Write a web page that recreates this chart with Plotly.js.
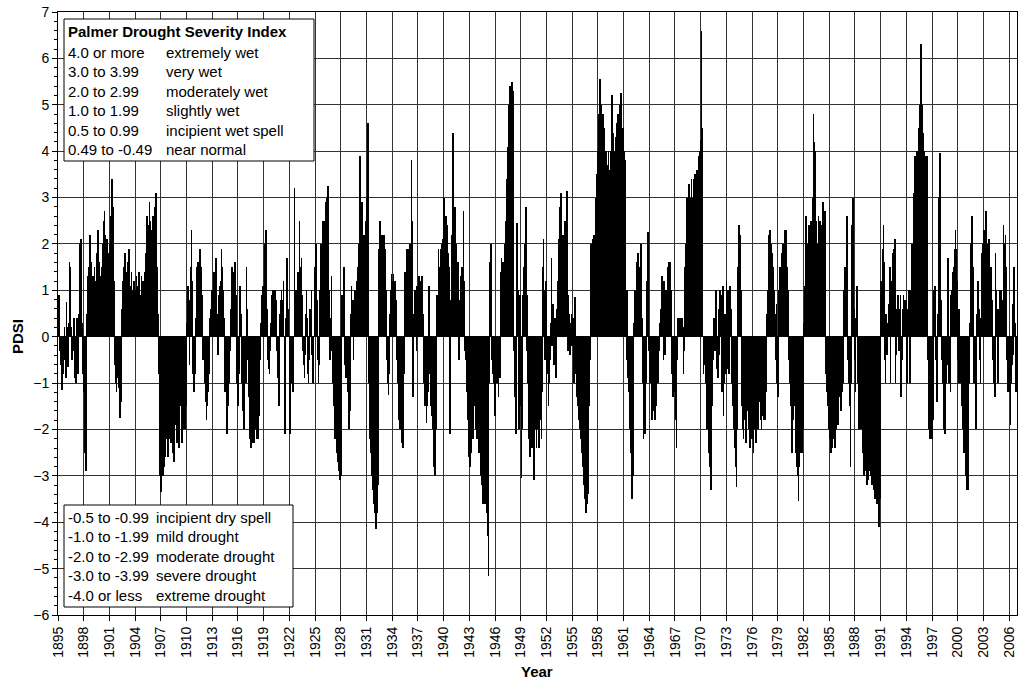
<!DOCTYPE html>
<html>
<head>
<meta charset="utf-8">
<script src="https://cdn.plot.ly/plotly-3.0.1.min.js"></script>
<style>
  html, body { margin: 0; padding: 0; background: #fff; }
  #chart { width: 1018px; height: 681px; }
</style>
</head>
<body>
<div id="chart"></div>
<script>
// Monthly Palmer Drought Severity Index, January 1895 onwards
const firstYear = 1895;

const pdsi1890s = [
  0.4, 0.9, 0.6, -0.3, -0.6, -1.0, -1.15, -0.8, -0.5, 0.2, -0.4, -0.9,
  0.75, 0.2, -0.65, 0.3, 1.6, 1.5, 0.2, -0.4, -0.5, -0.3, 0.4, -0.9,
  -0.9, -1.0, -0.5, 0.4, -0.8, 0.5, 1.2, 2.0, 2.1, 1.2, 0.3, -0.8,
  -1.2, -1.6, -2.5, -2.9, -1.5, 0.5, 1.3, 1.5, 1.2, 2.2, 1.6, 1.0,
  1.1, 1.3, 1.0, 1.5, 1.2, 0.9, 1.4, 1.8, 2.3, 1.6, 1.2, 1.3
];
const pdsi1900s = [
  1.2, 1.5, 1.3, 2.0, 2.5, 2.7, 2.2, 1.6, 1.3, 2.1, 1.8, 1.2,
  1.5, 2.0, 2.6, 3.0, 3.4, 2.8, 1.2, -0.4, -0.6, -1.0, -1.2, -0.9,
  -0.6, -1.1, -1.3, -1.75, -1.4, -0.5, 0.6, 1.2, 1.5, 1.0, 1.8, 1.4,
  1.2, 1.0, 1.6, 1.9, 1.3, 0.9, 1.1, 1.4, 1.0, 0.8, 1.2, 1.0,
  0.8, 1.0, 1.3, 0.9, 1.1, 1.4, 1.2, 0.7, 0.9, 1.3, 1.0, 1.2,
  1.1, 1.4, 1.2, 1.8, 2.2, 2.6, 2.0, 2.4, 2.9, 2.5, 2.3, 2.0,
  2.2, 2.6, 2.0, 2.5, 2.8, 3.1, 2.7, 1.5, 0.5, -0.8, -2.0, -3.0,
  -3.35, -3.2, -2.5, -3.0, -2.8, -2.0, -2.6, -2.0, -1.5, -2.2, -2.6, -2.2,
  -1.5, -2.0, -2.3, -1.8, -2.2, -2.5, -2.7, -2.3, -1.9, -1.5, -2.0, -2.3,
  -2.2, -2.4, -1.9, -1.5, -1.2, -1.8, -2.3, -2.0, -1.6, -1.0, -2.0, -1.5
];
const pdsi1910s = [
  -1.0, 0.3, 1.1, 0.5, -0.6, 0.8, 1.5, 2.3, 1.2, -0.8, -1.2, -0.5,
  -0.8, 0.4, 0.8, 1.5, 1.6, 1.0, 1.3, 1.9, 1.5, 1.0, 0.9, -0.5,
  -0.3, -0.6, -1.0, -1.4, -1.8, -1.5, -1.2, -0.8, -0.5, 0.4, 0.6, 1.0,
  0.8, 1.0, 1.4, 0.6, 1.0, 1.7, 1.2, 0.5, -0.4, 0.9, 1.1, 0.7,
  1.2, 1.9, 1.5, 1.0, 0.4, -0.5, -1.2, -0.8, -1.6, -2.1, -1.5, -0.6,
  -1.0, -0.3, 0.6, 1.0, 1.5, 1.4, 0.8, 1.5, 1.6, 0.9, -0.5, -1.0,
  -1.5, -0.8, 0.4, 1.1, 0.5, -0.6, -1.0, -1.6, -2.0, -1.2, -0.5, -1.0,
  1.5, 0.6, -0.5, -1.3, -1.8, -2.2, -2.4, -2.1, -1.8, -2.3, -1.9, -2.3,
  -1.5, -2.0, -2.2, -1.8, -2.2, -1.7, -1.0, -0.5, 0.3, 0.6, 0.9, 1.1,
  1.0, 2.0, 1.6, 2.3, 1.5, 0.6, -0.5, -0.7, -0.8, -0.3, 0.3, 0.5
];
const pdsi1920s = [
  0.9, 1.0, 0.8, 0.6, 1.0, 0.8, 0.6, -0.3, -0.9, -1.5, -1.0, 0.5,
  0.8, 1.0, 0.8, 0.5, 1.2, -0.6, -2.1, 0.4, 1.2, 1.7, 0.6, 0.3,
  -0.4, -2.1, -1.0, -0.5, -0.8, -1.2, -0.5, 3.2, 0.8, 1.0, 0.6, 1.0,
  1.4, 1.0, 2.5, 1.5, 1.2, 1.7, 0.9, -0.3, -0.6, -0.9, -0.4, 0.5,
  1.0, 0.4, -0.8, -1.0, -0.5, 0.6, 0.3, 1.0, -0.4, -1.0, -0.6, 0.5,
  1.5, 2.0, 1.6, 0.8, -0.5, -1.0, -0.6, 1.0, 2.0, 1.8, 2.0, 2.5,
  2.0, 2.5, 2.4, 2.9, 2.6, 3.0, 3.25, 2.0, 1.0, -0.5, 0.4, 1.3,
  -0.3, -1.0, -1.5, -1.0, -2.2, -1.8, -2.5, -2.2, -2.7, -2.4, -2.9, -3.1,
  -3.0, -1.2, 0.9, 0.8, 0.3, 1.5, -0.6, -0.9, -0.4, -0.8, -1.2, -1.5,
  -2.0, -1.6, 0.5, 1.1, 0.6, 0.8, -0.5, 0.4, 1.0, 0.7, 1.2, 1.0
];
const pdsi1930s = [
  1.5, 2.0, 1.8, 3.9, 2.0, 1.5, 2.9, 2.0, 1.6, 2.2, 1.8, 2.5,
  3.0, 2.6, 4.6, 1.5, -1.0, -2.2, -2.5, -3.0, -2.6, -3.3, -3.6, -3.0,
  -3.8, -4.15, -3.5, -3.8, -3.2, -0.5, 1.9, 2.5, 2.0, 1.5, 2.2, 1.9,
  1.2, 2.2, 1.9, 1.0, 0.5, -0.5, -1.0, -1.25, -0.8, 0.5, 1.0, 1.35,
  1.2, 0.8, 1.35, 1.0, 1.2, 0.6, 0.8, -0.5, -1.0, -1.5, -1.8, -2.0,
  -1.8, -2.0, -2.3, -2.4, -1.5, -0.8, 1.4, 1.0, 1.5, 1.9, 1.4, 1.6,
  1.9, 2.0, 1.6, 3.8, 2.5, -1.3, -0.8, 0.5, 1.0, 0.7, -0.3, 1.1,
  1.1, 0.8, 1.3, 0.6, 1.2, 0.9, 1.3, 0.5, -0.4, -1.0, -1.5, -1.2,
  -1.85, -1.5, -1.2, -0.6, 1.1, -0.8, -1.5, -1.7, -1.3, -2.0, -2.5, -2.8,
  -3.0, -2.0, 0.6, 0.9, 0.8, 1.9, 1.0, 1.5, 1.9, 2.0, 1.8, 2.1
];
const pdsi1940s = [
  2.5, 3.0, 2.2, 2.6, 1.9, 2.4, 1.8, 1.3, 1.5, -2.1, 0.8, 2.0,
  2.2, 4.4, 3.0, 2.0, 2.8, 2.0, 1.4, 1.0, 1.6, 1.2, -0.5, 0.8,
  1.3, 0.9, 1.5, 1.0, 2.7, 1.2, -0.3, -0.5, -0.65, -1.2, -1.8, -2.2,
  -2.6, -2.8, -2.5, -2.0, -1.8, -2.2, -1.6, -1.2, -1.5, -2.0, -1.8, -2.2,
  -1.7, -2.0, -2.5, -2.3, -3.0, -2.8, -3.2, -3.6, -3.3, -3.0, -3.6, -3.5,
  -3.8, -3.2, -4.3, -5.15, -1.0, 1.6, 2.0, 1.75, -0.5, -0.8, -1.0, -0.6,
  -1.7, -0.8, -0.5, -1.0, -0.6, -1.3, -0.7, -0.9, 1.4, 1.7, 1.5, 1.6,
  1.5, 1.6, 2.0, 2.5, 3.0, 3.4, 4.1, 4.6, 5.0, 5.4, 5.2, 5.45,
  5.5, 5.3, 0.7, -0.3, -1.3, -2.1, 0.5, 2.45, 1.0, -1.0, -2.0, 0.9,
  -1.5, -3.05, -2.0, 0.9, 1.5, 1.0, 2.0, 2.8, -0.3, 0.9, -1.0, -1.8
];
const pdsi1950s = [
  -2.2, -2.6, -1.5, -2.0, -2.4, -2.0, -2.8, -3.1, -1.5, -2.0, -2.4, -1.8,
  -2.0, -1.5, -2.4, -1.8, -1.0, -2.2, -1.2, 1.5, 2.1, 1.0, -0.5, 1.2,
  -1.0, -0.5, -0.8, -1.5, -1.0, -0.5, 0.3, 1.7, -0.2, 0.7, -0.5, -0.6,
  0.4, -0.9, -0.6, 0.6, 1.2, 2.1, 1.4, 2.8, 3.1, 2.0, 1.5, 2.2,
  2.2, 1.8, 2.5, 2.0, 2.8, 3.15, -0.3, 0.9, 0.5, -0.4, 0.3, 0.5,
  -0.2, 0.4, -0.5, -1.0, 0.85, -0.8, -1.0, -1.3, -1.5, -1.2, -1.8, -2.0,
  -2.2, -2.0, -2.5, -2.8, -3.0, -3.2, -3.5, -3.8, -3.3, -3.6, -3.4, -2.8,
  -1.5, -0.5, 2.0, 1.0, 1.5, 2.1, 1.8, 2.2, 2.0, 3.0, 2.8, 3.5,
  4.0, 4.8, 4.2, 5.55, 4.5, 5.0, 4.4, 4.8, 4.0, 4.5, 3.6, 4.0,
  2.8, 3.7, 3.5, 4.0, 3.2, 3.6, 4.0, 4.2, 5.2, 4.4, 4.0, 3.8
];
const pdsi1960s = [
  4.0, 4.3, 4.6, 4.0, 4.8, 4.2, 4.5, 5.0, 5.25, 4.8, 4.0, 4.5,
  4.2, 4.0, 3.8, 0.9, -0.5, 1.0, -0.9, -1.2, -1.0, -2.0, -2.5, -3.1,
  -3.5, -3.0, -2.0, 0.3, 1.0, 1.0, 1.2, 1.6, 1.8, 1.3, 1.5, 1.3,
  2.0, 1.3, 0.4, -1.0, -2.2, -2.0, -2.1, -1.0, 0.5, 1.2, 2.25, 1.0,
  -0.3, -1.0, -0.6, -1.2, -1.8, -1.5, -1.6, -1.0, -1.8, -1.5, -1.2, -1.0,
  -0.8, -1.0, -0.3, 0.3, 0.6, 0.9, 1.3, 0.5, -0.5, 1.2, -0.4, 1.0,
  1.0, 0.6, 1.5, 1.2, 1.6, 1.6, 1.0, -0.5, -0.8, -1.3, -1.0, -0.6,
  -1.2, -1.8, -2.4, -0.5, 0.4, 0.3, 0.4, 0.2, 0.4, 0.3, 0.4, 0.2,
  -0.8, -0.3, 1.5, 2.0, 2.5, 3.0, 2.5, 3.0, 3.3, 2.5, 3.0, 3.4,
  3.0, 2.5, 3.4, 3.3, 3.5, 3.0, 3.4, 3.6, 3.2, 3.9, 3.7, 4.0
];
const pdsi1970s = [
  4.25, 6.6, 4.5, 0.0, -0.8, -0.6, -0.3, -1.0, -1.5, -2.0, -1.8, -2.5,
  -2.3, -2.8, -3.3, -2.6, -1.5, -0.5, 0.2, 0.4, -0.3, 1.0, 0.5, -0.7,
  -0.9, 0.6, -0.4, 1.0, 0.9, -0.7, -1.2, 1.1, -1.7, -1.0, 0.5, -0.8,
  1.2, 1.0, -0.7, 1.0, -0.8, 1.1, 0.6, -0.4, -1.0, -1.5, -1.2, -2.0,
  -2.4, -2.8, -3.25, -2.0, 1.5, 2.0, 2.4, 2.2, 1.0, -0.5, -1.5, -2.0,
  -2.2, -1.8, -1.5, -2.3, -2.0, -1.6, -1.2, -2.0, -1.8, -2.4, -1.5, -2.0,
  -2.2, -1.6, -2.5, -2.0, -1.8, -2.3, -1.5, -1.8, -2.0, -1.2, -0.7, -1.4,
  -1.8, -2.0, -1.7, -1.6, -1.2, -1.8, -1.6, -1.8, -1.2, 0.5, 1.0, 1.8,
  2.2, 2.3, 2.2, 2.0, 1.8, 1.5, 1.2, 1.0, 0.5, -0.5, 0.7, -1.0,
  -1.3, -0.8, 1.0, 1.5, 1.2, 1.0, 1.8, 2.0, 1.6, 2.0, 2.3, 2.1
];
const pdsi1980s = [
  2.3, 1.5, 1.0, -0.5, -0.3, -1.0, -1.5, -2.0, -2.5, -1.8, -1.0, -1.5,
  -1.0, -1.5, -2.5, -2.8, -3.0, -3.55, -2.8, -2.5, -2.2, -2.0, -2.5, -2.0,
  -1.6, 0.3, 1.1, 1.6, 2.6, 2.0, 1.8, 2.2, 2.4, 2.0, 1.5, 2.5,
  2.5, 3.0, 4.8, 4.2, 4.0, 3.5, 2.5, 2.0, 1.5, 2.6, 2.0, 2.5,
  2.0, 2.4, 2.1, 2.9, 2.3, 2.0, 2.7, 0.0, -0.8, -1.2, -1.5, -2.0,
  -1.8, -2.2, -2.0, -2.5, -2.4, -2.0, -2.2, -1.9, -2.4, -1.8, -2.0, -1.6,
  -1.9, -1.5, -1.3, -0.5, -1.0, -1.6, -1.2, -1.0, -0.6, 1.0, 1.5, 0.8,
  1.0, 2.6, -0.5, -1.0, -0.6, -1.5, -2.8, -1.0, 2.4, 3.0, 0.5, 0.6,
  -0.5, -1.2, 0.4, 1.1, -1.0, -1.5, -2.0, -1.6, -1.8, -2.0, -1.5, -2.5,
  -2.7, -3.0, -2.9, -2.5, -2.8, -3.2, -3.0, -3.1, -2.9, -2.6, -3.0, -2.9
];
const pdsi1990s = [
  -3.2, -3.0, -3.3, -3.1, -3.5, -3.2, -3.3, -3.6, -3.4, -3.8, -4.1, -3.5,
  0.9, 1.2, 1.0, 1.9, 2.4, 1.6, -0.5, -1.0, 0.5, -0.4, 0.3, 0.7,
  0.4, 1.5, -1.0, 0.5, 1.2, 1.8, 1.9, 1.5, 2.1, -1.0, -0.4, 0.6,
  0.9, 0.5, -0.3, 0.6, 0.9, -1.3, -0.5, 0.6, 0.9, 0.8, 0.4, 0.7,
  0.8, -1.0, 0.6, 0.9, 1.0, -1.0, 0.8, 1.0, 2.0, 1.9, 3.1, 2.5,
  3.9, 3.0, 3.5, 4.0, 3.8, 4.5, 4.2, 5.0, 4.6, 6.3, 5.0, 4.4,
  3.8, 4.0, 3.5, 3.9, 3.6, 3.9, -0.5, -1.5, -2.0, -2.2, -1.8, -2.0,
  -2.2, -1.8, 1.0, 1.0, 1.1, 1.0, -0.5, -1.4, 0.5, 2.5, 3.0, 3.95,
  2.0, 0.8, -0.5, -1.0, -2.0, -1.6, -2.1, -1.8, -1.0, -0.6, 1.7, -0.5,
  -1.0, -0.5, -1.2, 0.9, 1.0, 1.4, 1.5, 1.0, 1.9, 2.3, 1.9, 1.2
];
const pdsi2000s = [
  -0.5, -1.0, 0.6, -1.0, -0.6, -1.0, -1.5, -2.0, -1.8, -2.5, -2.2, -2.8,
  -3.0, -3.3, -3.2, -3.3, -1.0, 0.3, 1.0, 2.0, 2.6, 1.5, -0.5, -1.0,
  -0.7, -1.3, -2.0, 0.5, 1.2, 1.0, 0.6, -0.5, -1.0, 0.4, 1.8, 2.0,
  2.0, 2.3, 1.5, 1.8, 2.7, 1.6, 2.0, 1.2, 2.1, 1.4, 1.0, 1.5,
  0.8, -0.5, -1.0, -0.8, -1.3, 1.8, 1.0, 0.6, -1.0, -0.5, 0.6, 1.0,
  0.6, 1.0, 0.8, 0.5, 2.4, 2.0, 1.6, 2.2, 1.5, -0.5, -1.2, -1.0,
  -0.5, -1.2, -1.9, -1.0, -0.6, 0.7, -0.4, 1.5, 0.3, -0.5, -1.2, -1.0
];

// Years labelled on the category axis (every third January)
const tickYears = [1895, 1898, 1901, 1904, 1907, 1910, 1913, 1916, 1919, 1922,
  1925, 1928, 1931, 1934, 1937, 1940, 1943, 1946, 1949, 1952, 1955, 1958,
  1961, 1964, 1967, 1970, 1973, 1976, 1979, 1982, 1985, 1988, 1991, 1994,
  1997, 2000, 2003, 2006];

// Index classes shown in the two key boxes
const keyTitle = 'Palmer Drought Severity Index';
const wetRanges = ['4.0 or more', '3.0 to 3.99', '2.0 to 2.99', '1.0 to 1.99', '0.5 to 0.99', '0.49 to -0.49'];
const wetClasses = ['extremely wet', 'very wet', 'moderately wet', 'slightly wet', 'incipient wet spell', 'near normal'];
const dryRanges = ['-0.5 to -0.99', '-1.0 to -1.99', '-2.0 to -2.99', '-3.0 to -3.99', '-4.0 or less'];
const dryClasses = ['incipient dry spell', 'mild drought', 'moderate drought', 'severe drought', 'extreme drought'];

const pdsi = [].concat(pdsi1890s, pdsi1900s, pdsi1910s, pdsi1920s, pdsi1930s,
  pdsi1940s, pdsi1950s, pdsi1960s, pdsi1970s, pdsi1980s, pdsi1990s, pdsi2000s);
const monthIndex = pdsi.map((_, i) => i);
const tickVals = tickYears.map(y => (y - firstYear) * 12);

// Page geometry (pixels) and helpers to place the key boxes
const W = 1018, H = 681;
const M = { l: 58, r: 1, t: 12, b: 66 };
const plotW = W - M.l - M.r, plotH = H - M.t - M.b;
const px = x => (x - M.l) / plotW;
const py = y => (H - M.b - y) / plotH;

const FONT = 'Arial, "Liberation Sans", sans-serif';
const KEY_SIZE = 15;

const shapes = [
  { type: 'rect', xref: 'paper', yref: 'paper', layer: 'above',
    x0: px(64), x1: px(314), y0: py(161), y1: py(19),
    fillcolor: '#fff', line: { color: '#000', width: 1 } },
  { type: 'rect', xref: 'paper', yref: 'paper', layer: 'above',
    x0: px(64), x1: px(293), y0: py(607), y1: py(505),
    fillcolor: '#fff', line: { color: '#000', width: 1 } }
];

const annotations = [];
function keyText(text, x, y, bold) {
  annotations.push({ xref: 'paper', yref: 'paper', x: px(x), y: py(y),
    xanchor: 'left', yanchor: 'middle', showarrow: false,
    text: bold ? '<b>' + text + '</b>' : text,
    font: { family: FONT, size: KEY_SIZE, color: '#000' } });
}
keyText(keyTitle, 66, 32, true);
wetRanges.forEach((t, i) => {
  keyText(t, 66, 52 + i * 19.6);
  keyText(wetClasses[i], 164, 52 + i * 19.6);
});
dryRanges.forEach((t, i) => {
  keyText(t, 66, 517 + i * 19.6);
  keyText(dryClasses[i], 154, 517 + i * 19.6);
});

// Axis titles
annotations.push({ xref: 'paper', yref: 'paper', x: px(17), y: py(337),
  xanchor: 'center', yanchor: 'middle', showarrow: false, textangle: -90,
  text: '<b>PDSI</b>', font: { family: FONT, size: 15, color: '#000' } });
annotations.push({ xref: 'paper', yref: 'paper', x: px(537), y: py(671),
  xanchor: 'center', yanchor: 'middle', showarrow: false,
  text: '<b>Year</b>', font: { family: FONT, size: 15, color: '#000' } });

const trace = {
  type: 'bar', x: monthIndex, y: pdsi,
  marker: { color: '#000', line: { width: 0 } },
  hoverinfo: 'skip'
};

const layout = {
  width: W, height: H,
  margin: M,
  paper_bgcolor: '#fff', plot_bgcolor: '#fff',
  font: { family: FONT, size: 14, color: '#000' },
  bargap: 0,
  showlegend: false,
  xaxis: {
    range: [0, pdsi.length - 1],
    tickmode: 'array', tickvals: tickVals, ticktext: tickYears.map(String),
    tickangle: -90, ticks: 'outside', ticklen: 5, tickcolor: '#000',
    tickfont: { family: FONT, size: 14 },
    showgrid: true, gridcolor: '#333', gridwidth: 1,
    showline: true, linecolor: '#000', linewidth: 1, mirror: true,
    zeroline: false, automargin: false, fixedrange: true
  },
  yaxis: {
    range: [-6, 7], tick0: 0, dtick: 1,
    ticks: 'outside', ticklen: 5, tickcolor: '#000',
    tickfont: { family: FONT, size: 14 },
    minor: { dtick: 0.2, ticks: 'outside', ticklen: 3, tickcolor: '#000', showgrid: false },
    showgrid: true, gridcolor: '#333', gridwidth: 1,
    zeroline: true, zerolinecolor: '#000', zerolinewidth: 1,
    showline: true, linecolor: '#000', linewidth: 1, mirror: true,
    automargin: false, fixedrange: true
  },
  shapes: shapes,
  annotations: annotations
};

Plotly.newPlot('chart', [trace], layout, { displayModeBar: false, responsive: false });
</script>
</body>
</html>
